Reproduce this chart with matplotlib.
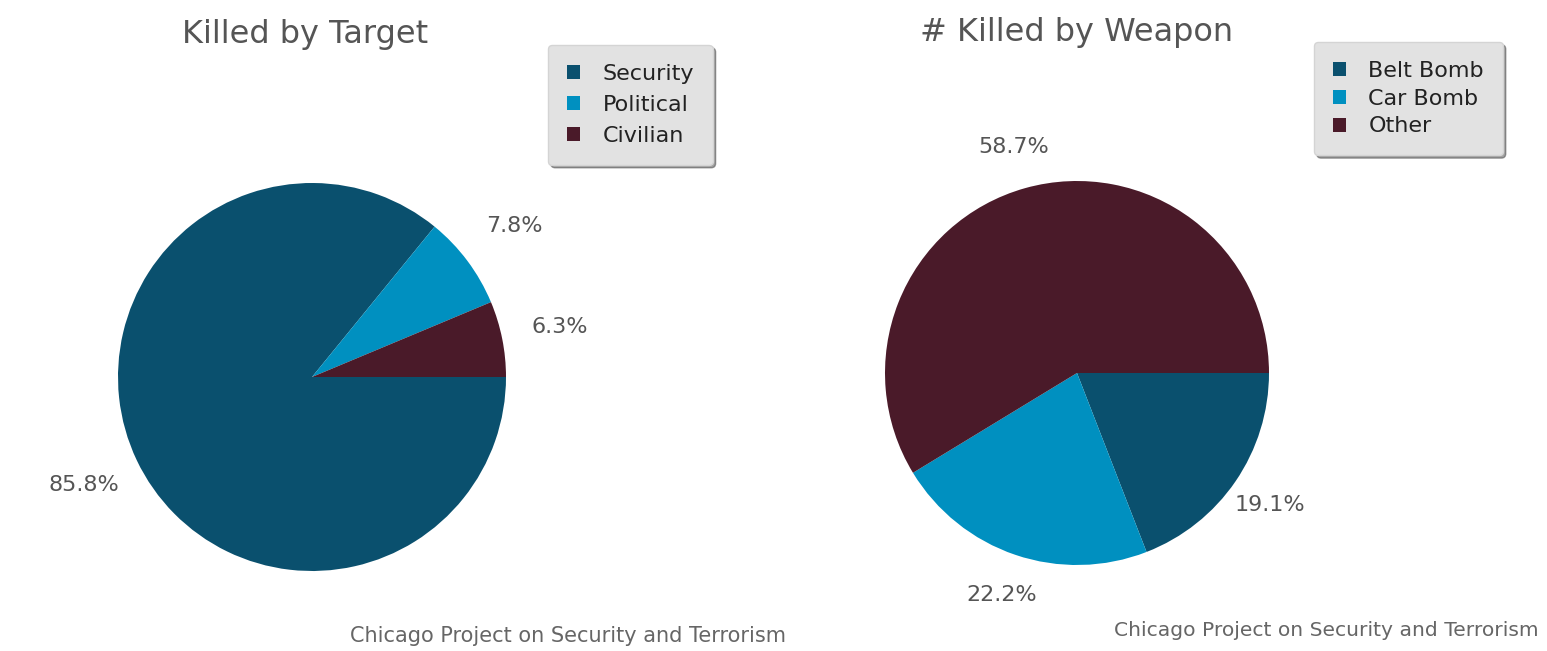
import matplotlib

matplotlib.use("Agg")
import matplotlib.pyplot as plt

W, H = 1547, 651

target_labels = ["Security", "Political", "Civilian"]
target_pct = [85.8, 7.8, 6.3]

weapon_labels = ["Belt Bomb", "Car Bomb", "Other"]
weapon_pct = [19.1, 22.2, 58.7]

colors = ["#0a506e", "#0090c0", "#4a1a29"]
source = "Chicago Project on Security and Terrorism"

plt.rcParams["font.family"] = ["DejaVu Sans"]


def px_axes(fig, cx, cy, r):
    # cx, cy in pixels from top-left; r = pie radius in pixels
    return fig.add_axes([(cx - r) / W, (H - cy - r) / H, 2 * r / W, 2 * r / H])


def draw_pie(ax, vals, pctdist):
    total = sum(vals)
    wedges, _, autotexts = ax.pie(
        vals, colors=colors, startangle=0, counterclock=False,
        # show the given values, not the renormalised share
        autopct=lambda p: f"{p * total / 100:.1f}%", pctdistance=pctdist,
        wedgeprops={"linewidth": 0},
        textprops={"fontsize": 16, "color": "#555555"},
    )
    ax.set_xlim(-1, 1)
    ax.set_ylim(-1, 1)
    ax.set_aspect("equal")
    ax.axis("off")
    return wedges


def add_legend(fig, wedges, labels, x, y, spacing):
    leg = fig.legend(
        wedges, labels, loc="upper left", bbox_to_anchor=(x / W, 1 - y / H),
        borderaxespad=0, fontsize=16, handlelength=0.6, handleheight=0.6,
        handletextpad=1.0, labelspacing=spacing, borderpad=0.85,
        fancybox=True, shadow=True,
        facecolor="#e2e2e2", edgecolor="#d4d4d4", framealpha=1,
    )
    for t in leg.get_texts():
        t.set_color("#222222")
    return leg


fig = plt.figure(figsize=(W / 100, H / 100), dpi=100)

ax1 = px_axes(fig, 312, 377, 194)
w1 = draw_pie(ax1, target_pct, 1.3)
ax2 = px_axes(fig, 1077, 373, 192)
w2 = draw_pie(ax2, weapon_pct, 1.22)

fig.text(305 / W, 1 - 35 / H, "Killed by Target", ha="center", va="center",
         fontsize=23, color="#555555")
fig.text(1077 / W, 1 - 32 / H, "# Killed by Weapon", ha="center", va="center",
         fontsize=23, color="#555555")

add_legend(fig, w1, target_labels, 548, 45, 0.5)
add_legend(fig, w2, weapon_labels, 1314, 42, 0.35)

fig.text(350 / W, 1 - 636 / H, source, ha="left", va="center",
         fontsize=15, color="#666666")
fig.text(1114 / W, 1 - 631 / H, source, ha="left", va="center",
         fontsize=14.6, color="#666666")

fig.savefig("out.png", dpi=100)
